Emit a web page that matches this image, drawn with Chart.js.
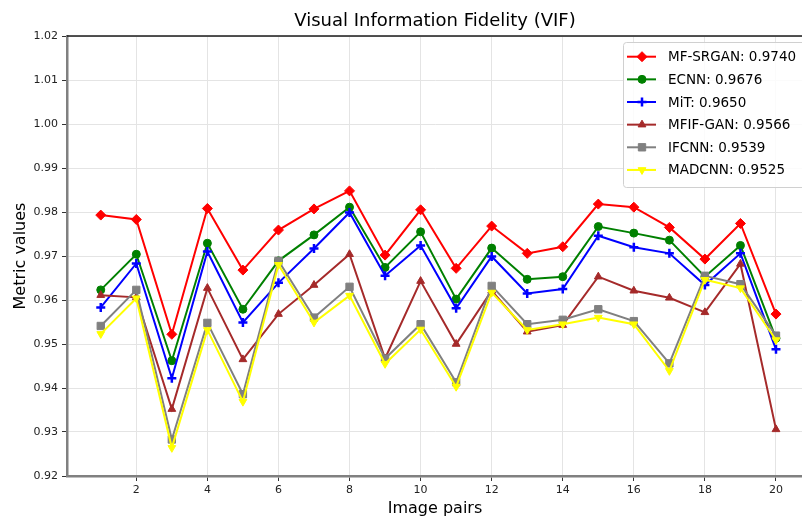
<!DOCTYPE html>
<html>
<head>
<meta charset="utf-8">
<script src="https://cdn.jsdelivr.net/npm/chart.js@4"></script>
<style>
  html, body { margin: 0; padding: 0; background: #fff; overflow: hidden; }
  #wrap { width: 810px; height: 520px; position: relative; }
</style>
</head>
<body>
<div id="wrap"><canvas id="vifChart"></canvas></div>
<script>
// Image pair index and tick labels
const imagePairs = [1, 2, 3, 4, 5, 6, 7, 8, 9, 10, 11, 12, 13, 14, 15, 16, 17, 18, 19, 20];
const xTicks = [2, 4, 6, 8, 10, 12, 14, 16, 18, 20];
const yTicks = [0.92, 0.93, 0.94, 0.95, 0.96, 0.97, 0.98, 0.99, 1.00, 1.01, 1.02];

// Methods and their mean scores (shown in the legend)
const methodNames = ['MF-SRGAN', 'ECNN', 'MiT', 'MFIF-GAN', 'IFCNN', 'MADCNN'];
const methodScores = ['0.9740', '0.9676', '0.9650', '0.9566', '0.9539', '0.9525'];

// VIF per image pair
const mfsrgan = [0.9793, 0.9783, 0.9522, 0.9808, 0.9668, 0.9759, 0.9807, 0.9848, 0.9702, 0.9805, 0.9672, 0.9768, 0.9706, 0.9721, 0.9818, 0.9811, 0.9765, 0.9693, 0.9774, 0.9568];
const ecnn    = [0.9623, 0.9704, 0.9462, 0.9729, 0.9579, 0.9689, 0.9748, 0.9811, 0.9674, 0.9755, 0.9602, 0.9718, 0.9647, 0.9653, 0.9767, 0.9752, 0.9736, 0.9653, 0.9724, 0.9513];
const mit     = [0.9583, 0.9683, 0.9422, 0.9710, 0.9549, 0.9639, 0.9717, 0.9799, 0.9655, 0.9724, 0.9581, 0.9699, 0.9615, 0.9625, 0.9746, 0.9720, 0.9706, 0.9634, 0.9706, 0.9488];
const mfifgan = [0.9611, 0.9606, 0.9352, 0.9627, 0.9465, 0.9568, 0.9634, 0.9704, 0.9467, 0.9643, 0.9500, 0.9621, 0.9528, 0.9543, 0.9653, 0.9621, 0.9605, 0.9572, 0.9682, 0.9306];
const ifcnn   = [0.9541, 0.9623, 0.9283, 0.9548, 0.9386, 0.9689, 0.9560, 0.9630, 0.9467, 0.9545, 0.9413, 0.9632, 0.9545, 0.9555, 0.9579, 0.9552, 0.9456, 0.9655, 0.9636, 0.9519];
const madcnn  = [0.9523, 0.9604, 0.9264, 0.9532, 0.9369, 0.9680, 0.9549, 0.9610, 0.9455, 0.9533, 0.9403, 0.9617, 0.9532, 0.9545, 0.9560, 0.9545, 0.9439, 0.9646, 0.9627, 0.9509];

const seriesValues = [mfsrgan, ecnn, mit, mfifgan, ifcnn, madcnn];
const seriesColors = ['#ff0000', '#008000', '#0000ff', '#a52a2a', '#808080', '#ffff00'];
const markerStyles = ['rectRot', 'circle', 'cross', 'triangle', 'rect', 'triangle'];
const markerRadius = [5, 4, 4.5, 4.5, 5.2, 4.5];
const markerRotation = [0, 0, 0, 0, 0, 180];

const FONT = "'DejaVu Sans', sans-serif";

const datasets = methodNames.map((name, i) => ({
    label: name + ': ' + methodScores[i],
    data: imagePairs.map((x, j) => ({ x: x, y: seriesValues[i][j] })),
    borderColor: seriesColors[i],
    backgroundColor: seriesColors[i],
    pointBackgroundColor: seriesColors[i],
    pointBorderColor: seriesColors[i],
    pointStyle: markerStyles[i],
    pointRadius: markerRadius[i],
    pointRotation: markerRotation[i],
    pointBorderWidth: markerStyles[i] === 'cross' ? 2.5 : 1,
    borderWidth: 2,
    tension: 0,
    order: methodNames.length - i // later series drawn on top
}));

// legend box drawn inside the plot area, matplotlib style
const innerLegend = {
    id: 'innerLegend',
    afterDraw(chart) {
        const ctx = chart.ctx;
        const area = chart.chartArea;
        const left = area.right - 180;
        const top = area.top + 6;
        const height = 145;
        const width = 190;

        ctx.save();
        ctx.fillStyle = 'rgba(255,255,255,0.85)';
        ctx.strokeStyle = '#d0d0d0';
        ctx.lineWidth = 1;
        ctx.beginPath();
        ctx.roundRect(left + 0.5, top + 0.5, width, height, 3);
        ctx.fill();
        ctx.stroke();

        ctx.font = '13.5px ' + FONT;
        ctx.textBaseline = 'middle';
        ctx.textAlign = 'left';
        chart.data.datasets.forEach((ds, i) => {
            const y = top + 14.7 + i * 22.65;
            ctx.strokeStyle = ds.borderColor;
            ctx.fillStyle = ds.borderColor;
            ctx.lineWidth = 2;
            ctx.beginPath();
            ctx.moveTo(left + 4, y);
            ctx.lineTo(left + 33, y);
            ctx.stroke();
            ctx.lineWidth = ds.pointBorderWidth;
            Chart.helpers.drawPoint(ctx, {
                pointStyle: ds.pointStyle,
                rotation: ds.pointRotation,
                radius: ds.pointRadius,
                borderWidth: ds.pointBorderWidth
            }, left + 19, y);
            ctx.fillStyle = '#000';
            ctx.fillText(ds.label, left + 45, y + 1);
        });
        ctx.restore();
    },
    afterDatasetsDraw(chart) {
        // top spine
        const ctx = chart.ctx;
        const area = chart.chartArea;
        ctx.save();
        ctx.strokeStyle = '#1a1a1a';
        ctx.lineWidth = 1.5;
        ctx.beginPath();
        ctx.moveTo(area.left, area.top);
        ctx.lineTo(area.right, area.top);
        ctx.stroke();
        ctx.restore();
    }
};

new Chart(document.getElementById('vifChart'), {
    type: 'line',
    data: { datasets: datasets },
    plugins: [innerLegend],
    options: {
        responsive: true,
        maintainAspectRatio: false,
        animation: false,
        devicePixelRatio: 1,
        layout: { padding: 0 },
        plugins: {
            legend: { display: false },
            tooltip: { enabled: false },
            title: {
                display: true,
                text: 'Visual Information Fidelity (VIF)',
                color: '#000',
                fullSize: false,
                font: { family: FONT, size: 18, weight: 'normal' },
                padding: { top: 11, bottom: 3.4 }
            }
        },
        scales: {
            x: {
                type: 'linear',
                min: 0.05,
                max: 20.76,
                afterBuildTicks: axis => { axis.ticks = xTicks.map(v => ({ value: v })); },
                afterFit: scale => { scale.height = 44; },
                ticks: {
                    color: '#222',
                    font: { family: FONT, size: 11 },
                    padding: 3,
                    maxRotation: 0,
                    callback: v => String(v)
                },
                grid: { color: '#e4e4e4', tickColor: '#333', tickLength: 5, lineWidth: 1 },
                border: { color: '#808080', width: 2.5 },
                title: {
                    display: true,
                    text: 'Image pairs',
                    color: '#000',
                    font: { family: FONT, size: 16 },
                    padding: { top: 0, bottom: 2 }
                }
            },
            y: {
                type: 'linear',
                min: 0.92,
                max: 1.02,
                afterBuildTicks: axis => { axis.ticks = yTicks.map(v => ({ value: v })); },
                afterFit: scale => { scale.width = 67; },
                ticks: {
                    color: '#222',
                    font: { family: FONT, size: 11 },
                    padding: 4,
                    callback: v => Number(v).toFixed(2)
                },
                grid: { color: '#e4e4e4', tickColor: '#333', tickLength: 5, lineWidth: 1 },
                border: { color: '#808080', width: 2.5 },
                title: {
                    display: true,
                    text: 'Metric values',
                    color: '#000',
                    font: { family: FONT, size: 16 },
                    padding: { top: 11, bottom: 0 }
                }
            }
        }
    }
});
</script>
</body>
</html>
